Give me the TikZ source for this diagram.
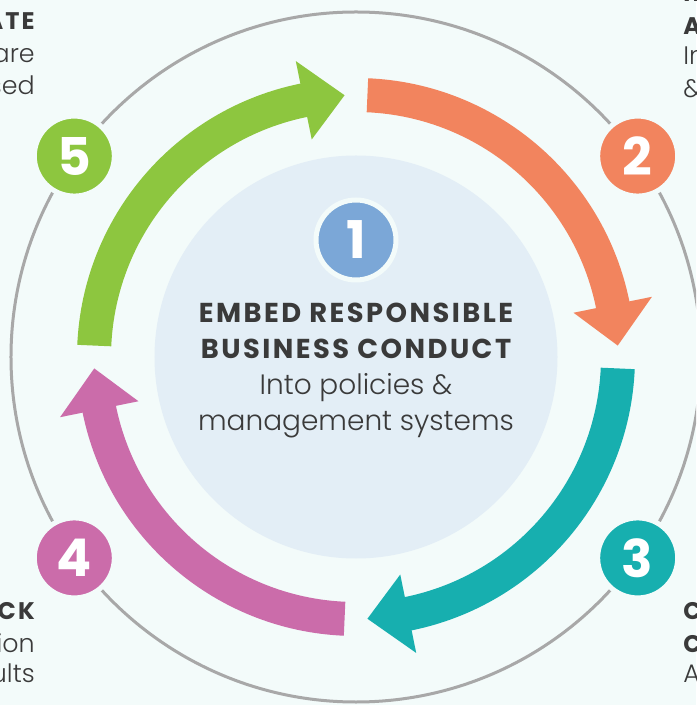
\documentclass[tikz,border=0pt]{standalone}
\usepackage{fontspec}
\setmainfont{Poppins}
\newfontfamily\lightfont{Poppins Light}
\newfontfamily\headfont{Poppins}[LetterSpace=9]
\usepackage{xcolor}
\usepackage{tikz}
\usetikzlibrary{positioning}

\definecolor{bgc}{HTML}{F3FBFA}
\definecolor{hubc}{HTML}{E3EEF6}
\definecolor{ringc}{HTML}{A8A8A8}
\definecolor{greenc}{HTML}{8DC63F}
\definecolor{orangec}{HTML}{F2845E}
\definecolor{tealc}{HTML}{17AFAF}
\definecolor{pinkc}{HTML}{CB6CAA}
\definecolor{bluec}{HTML}{7BA7D7}
\definecolor{textc}{HTML}{3A3A3A}

\begin{document}
\begin{tikzpicture}[x=0.75pt, y=0.75pt]
	\tikzstyle{numc}=[circle, minimum size=60pt, inner sep=0pt, draw=bgc, line width=3.75pt, text=white, font=\fontsize{39}{39}\selectfont\bfseries]
	\tikzstyle{boldt}=[inner sep=0pt, text=textc, font=\fontsize{20.5}{24}\selectfont\headfont\bfseries]
	\tikzstyle{thint}=[inner sep=0pt, text=textc, font=\fontsize{21}{24}\selectfont\lightfont]
	\tikzstyle{sideb}=[inner sep=0pt, text=textc, font=\fontsize{18}{22}\selectfont\headfont\bfseries]
	\tikzstyle{sidet}=[inner sep=0pt, text=textc, font=\fontsize{19}{22}\selectfont\lightfont]
	
	\clip (-356,-348) rectangle (340,357);
	\fill[bgc] (-356,-348) rectangle (340,357);
	
	\draw[ringc, line width=2.25pt] (0,0) circle (345);
	\fill[hubc] (0,0) circle (201.5);
	
	% cycle arrows
	\fill[greenc] (177.5:279) arc[start angle=177.5, end angle=101.5, radius=279] -- (101.5:302) -- (92.5:262) -- (101.5:222) -- (101.5:245) arc[start angle=101.5, end angle=177.5, radius=245] -- cycle;
	\fill[orangec] (87.5:279) arc[start angle=87.5, end angle=11.5, radius=279] -- (11.5:302) -- (2.5:262) -- (11.5:222) -- (11.5:245) arc[start angle=11.5, end angle=87.5, radius=245] -- cycle;
	\fill[tealc] (-2.5:279) arc[start angle=-2.5, end angle=-78.5, radius=279] -- (-78.5:302) -- (-87.5:262) -- (-78.5:222) -- (-78.5:245) arc[start angle=-78.5, end angle=-2.5, radius=245] -- cycle;
	\fill[pinkc] (-92.5:279) arc[start angle=-92.5, end angle=-168.5, radius=279] -- (-168.5:302) -- (-177.5:262) -- (-168.5:222) -- (-168.5:245) arc[start angle=-168.5, end angle=-92.5, radius=245] -- cycle;
	
	\node (n1) at (0,117) [numc, fill=bluec] {1};
	\node (n2) at (35.5:346) [numc, fill=orangec] {2};
	\node (n3) at (-35.5:346) [numc, fill=tealc] {3};
	\node (n4) at (-144.5:346) [numc, fill=pinkc] {4};
	\node (n5) at (144.5:346) [numc, fill=greenc] {5};
	
	\node (h1) at (0,34) [boldt, anchor=base] {EMBED RESPONSIBLE};
	\node (h2) at (0,-2) [boldt, anchor=base] {BUSINESS CONDUCT};
	\node (s1) at (0,-38) [thint, anchor=base] {Into policies \&};
	\node (s2) at (0,-74) [thint, anchor=base] {management systems};
	
	\node (tl1) at (-321,327) [sideb, anchor=base east] {ATE};
	\node (tl2) at (-321,294) [sidet, anchor=base east] {are};
	\node (tl3) at (-321,262) [sidet, anchor=base east] {sed};
	
	\node (tr1) at (327,355) [sideb, anchor=base west] {ID};
	\node (tr2) at (327,322) [sideb, anchor=base west] {A};
	\node (tr3) at (327,292) [sidet, anchor=base west] {In};
	\node (tr4) at (327,259) [sidet, anchor=base west] {\&};
	
	\node (bl1) at (-321,-262) [sideb, anchor=base east] {CK};
	\node (bl2) at (-321,-295) [sidet, anchor=base east] {ion};
	\node (bl3) at (-321,-325) [sidet, anchor=base east] {ults};
	
	\node (br1) at (327,-262) [sideb, anchor=base west] {C};
	\node (br2) at (327,-295) [sideb, anchor=base west] {C};
	\node (br3) at (327,-325) [sidet, anchor=base west] {A};
\end{tikzpicture}
\end{document}
